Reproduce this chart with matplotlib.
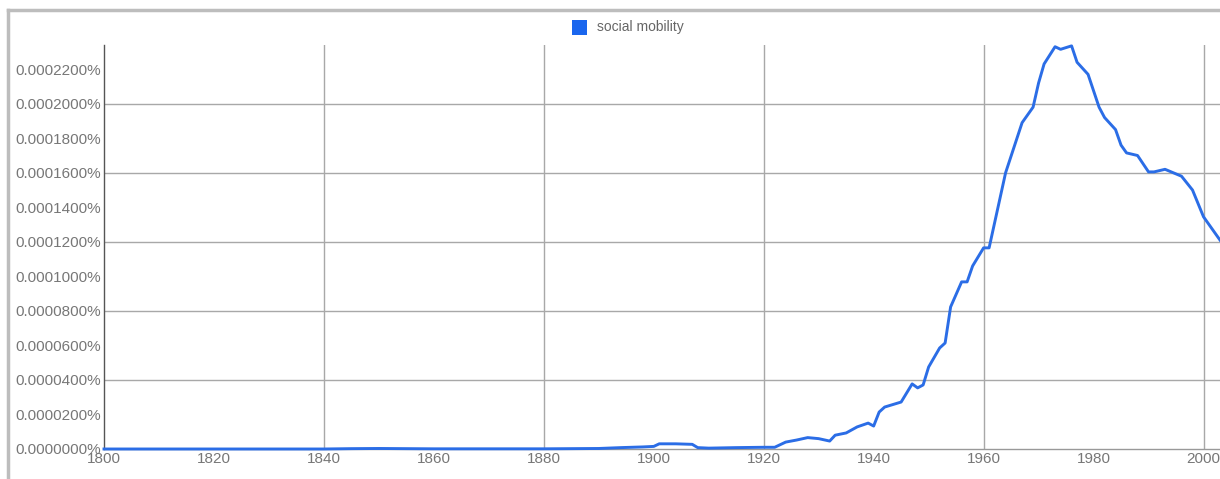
#!/usr/bin/env python3
"""Ngram-style line chart: 'social mobility' 1800-2003."""
import matplotlib
matplotlib.use("Agg")
import matplotlib.pyplot as plt
from matplotlib.lines import Line2D
from matplotlib.patches import Rectangle
from matplotlib.ticker import FuncFormatter, MultipleLocator

plt.rcParams["font.family"] = ["Liberation Sans", "DejaVu Sans"]

# ── Data (values in percent) ──
SERIES_NAME = "social mobility"
years = [1800, 1820, 1840, 1845, 1850, 1855, 1860, 1870, 1880, 1890,
         1894, 1898, 1900, 1901, 1904, 1907, 1908, 1910, 1915, 1920,
         1922, 1924, 1926, 1928, 1930, 1932, 1933, 1935, 1937, 1939,
         1940, 1941, 1942, 1945, 1947, 1948, 1949, 1950, 1952, 1953,
         1954, 1956, 1957, 1958, 1960, 1961, 1962, 1964, 1967, 1969,
         1970, 1971, 1973, 1974, 1976, 1977, 1979, 1981, 1982, 1984,
         1985, 1986, 1988, 1990, 1991, 1993, 1996, 1998, 2000, 2003]
values = [0.0, 0.0, 0.0, 0.0000002, 0.0000003, 0.0000002, 0.0000001, 0.0000001, 0.0000001, 0.0000003,
          0.0000008, 0.0000012, 0.0000015, 0.0000030, 0.0000030, 0.0000027, 0.0000008, 0.0000005, 0.0000008, 0.0000010,
          0.0000010, 0.0000040, 0.0000052, 0.0000066, 0.0000060, 0.0000046, 0.0000080, 0.0000093, 0.0000128, 0.0000150,
          0.0000133, 0.0000214, 0.0000243, 0.0000272, 0.0000377, 0.0000354, 0.0000371, 0.0000475, 0.0000585, 0.0000614,
          0.0000823, 0.0000968, 0.0000968, 0.0001060, 0.0001165, 0.0001165, 0.0001310, 0.0001600, 0.0001890, 0.0001980,
          0.0002120, 0.0002230, 0.0002330, 0.0002315, 0.0002335, 0.0002240, 0.0002170, 0.0001980, 0.0001920, 0.0001850,
          0.0001760, 0.0001715, 0.0001700, 0.0001605, 0.0001605, 0.0001620, 0.0001580, 0.0001500, 0.0001345, 0.0001210]

# ── Style ──
C_LINE = "#2b6de6"
C_TICK = "#777777"
C_GRID = "#a8a8a8"
C_FRAME = "#bdbdbd"

W, H = 1220, 479
fig = plt.figure(figsize=(W / 100, H / 100), dpi=100)
fig.patch.set_facecolor("white")

ax = fig.add_axes([104 / W, 1 - 449 / H, 1 - 104 / W, (449 - 45) / H])
ax.plot(years, values, color=C_LINE, lw=2.1, solid_joinstyle="round",
        zorder=3, clip_on=False)

ax.set_xlim(1800, 2003)
ax.set_ylim(0, 0.000234)

# ticks
ax.xaxis.set_major_locator(MultipleLocator(20))
ax.yaxis.set_major_locator(MultipleLocator(0.00002))
ax.yaxis.set_major_formatter(FuncFormatter(lambda v, p: f"{v:.7f}%"))
ax.tick_params(axis="both", length=0, labelsize=11, labelcolor=C_TICK)
ax.tick_params(axis="y", pad=2)
ax.tick_params(axis="x", pad=2.5)

# grid: vertical every 40 years, horizontal every 0.00004
for gx in range(1840, 2003, 40):
    ax.axvline(gx, color=C_GRID, lw=1.0, zorder=1)
for gy in [0.00004, 0.00008, 0.00012, 0.00016, 0.00020]:
    ax.axhline(gy, color=C_GRID, lw=1.0, zorder=1)

for s in ["top", "right"]:
    ax.spines[s].set_visible(False)
ax.spines["left"].set_color("#555555")
ax.spines["left"].set_linewidth(1.0)
ax.spines["bottom"].set_color("#999999")
ax.spines["bottom"].set_linewidth(1.0)

# legend (square + label) in figure pixels
fig.add_artist(Rectangle((572 / W, 1 - 35 / H), 15 / W, 15 / H,
                         transform=fig.transFigure, facecolor="#1a66ee",
                         edgecolor="none"))
fig.text(597 / W, 1 - 27 / H, SERIES_NAME, ha="left", va="center",
         fontsize=10, color="#666666")

# outer screenshot frame (top and left)
fig.add_artist(Line2D([7.5 / W, 1], [1 - 9.5 / H, 1 - 9.5 / H],
                      transform=fig.transFigure, color=C_FRAME, lw=2.5))
fig.add_artist(Line2D([7.5 / W, 7.5 / W], [0, 1 - 9.5 / H],
                      transform=fig.transFigure, color=C_FRAME, lw=2.5))

fig.savefig("out.png", dpi=100, facecolor="white")
